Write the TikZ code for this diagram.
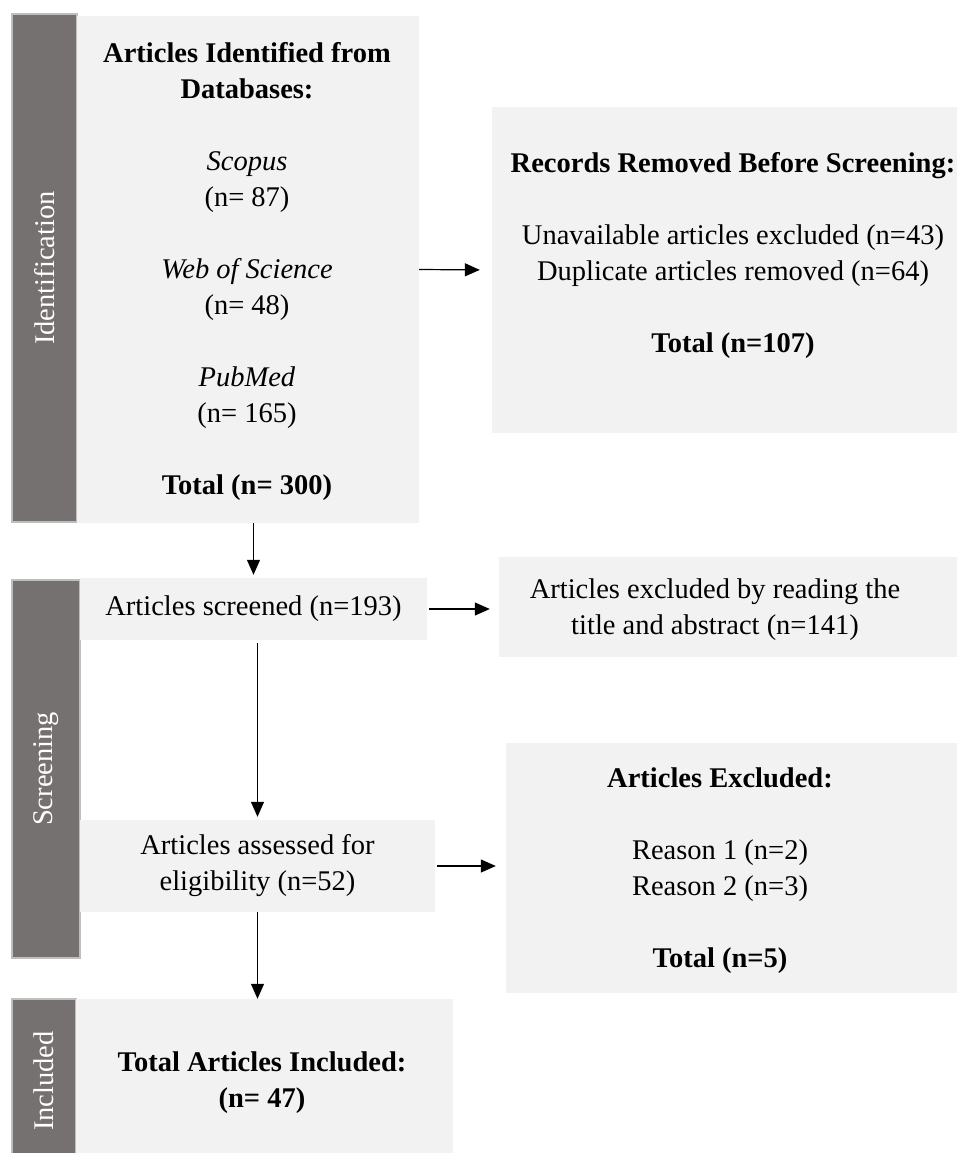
\documentclass[tikz,border=0pt]{standalone}
\usepackage{fontspec}
\setmainfont{Liberation Serif}
\usetikzlibrary{arrows.meta}
\definecolor{barfill}{HTML}{767171}
\definecolor{barline}{HTML}{BFBFBF}
\definecolor{boxfill}{HTML}{F2F2F2}
\newcommand{\bodyfont}{\fontsize{28.5}{36}\selectfont}
\tikzset{
  stagebar/.style={fill=barfill, draw=barline, line width=1.5pt, inner sep=0pt},
  stagelab/.style={rotate=90, text=white, font=\bodyfont, inner sep=0pt},
  panel/.style={fill=boxfill, draw=none, inner sep=0pt, align=center, font=\bodyfont},
  txt/.style={align=center, font=\bodyfont, inner sep=0pt},
  arr/.style={draw=black, line width=1.2pt, -{Triangle[length=15pt,width=13pt]}},
}
\begin{document}
\begin{tikzpicture}[x=1pt,y=-1pt]
\useasboundingbox (0,0) rectangle (956,1153);
% stage bars
\node[stagebar, minimum width=65pt, minimum height=508pt] (bar1) at (44.5,268) {};
\node[stagelab] (lab1) at (bar1.center) {Identification};
\node[stagebar, minimum width=68pt, minimum height=378pt] (bar2) at (46,769) {};
\node[stagelab] (lab2) at (bar2.center) {Screening};
\node[stagebar, minimum width=64pt, minimum height=166pt] (bar3) at (44,1082) {};
\node[stagelab] (lab3) at (44,1081) {Included};
% panels
\node[panel, minimum width=342pt, minimum height=507pt] (box1) at (248,269.5) {};
\node[txt] (t1) at (247,271) {\textbf{Articles Identified from}\\\textbf{Databases:}\\[36pt]
  \textit{Scopus}\\(n= 87)\\[36pt]
  \textit{Web of Science}\\(n= 48)\\[36pt]
  \textit{PubMed}\\(n= 165)\\[36pt]
  \textbf{Total (n= 300)}};
\node[panel, minimum width=483pt, minimum height=326pt] (box2) at (733.5,270) {};
\node[txt] (t2) at (733,255) {\textbf{Records Removed Before Screening:}\\[36pt]
  Unavailable articles excluded (n=43)\\Duplicate articles removed (n=64)\\[36pt]
  \textbf{Total (n=107)}};
\node[panel, minimum width=347pt, minimum height=62pt] (scr) at (253.5,609) {Articles screened (n=193)};
\node[panel, minimum width=462pt, minimum height=100pt] (exr) at (730,607) {};
\node[txt] (t3) at (715,610) {Articles excluded by reading the\\title and abstract (n=141)};
\node[panel, minimum width=355pt, minimum height=92pt] (ass) at (257.5,866) {Articles assessed for\\eligibility (n=52)};
\node[panel, minimum width=454pt, minimum height=250pt] (exc) at (733,868) {};
\node[txt] (t4) at (720,871) {\textbf{Articles Excluded:}\\[36pt]
  Reason 1 (n=2)\\Reason 2 (n=3)\\[36pt]
  \textbf{Total (n=5)}};
\node[panel, minimum width=377pt, minimum height=166pt] (box3) at (264.5,1082) {};
\node[txt] (t5) at (262,1083) {\textbf{Total Articles Included:}\\\textbf{(n= 47)}};
% connectors
\draw[arr, shorten >=12pt] (box1.east) -- (box2.west);
\draw[arr, shorten >=3pt] (box1.south -| scr.north) -- (scr.north);
\draw[arr, shorten <=2pt, shorten >=9pt] (scr.east) -- (scr.east -| exr.west);
\draw[arr, shorten <=3pt, shorten >=3pt] (scr.south -| ass.north) -- (ass.north);
\draw[arr, shorten <=2pt, shorten >=10pt] (ass.east) -- (ass.east -| exc.west);
\draw[arr] (ass.south) -- (ass.south |- box3.north);
\end{tikzpicture}
\end{document}
